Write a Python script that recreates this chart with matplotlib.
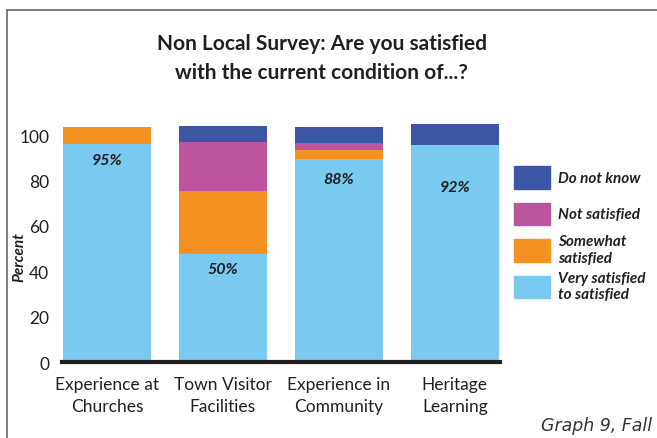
import matplotlib.pyplot as plt
import numpy as np
from matplotlib.legend_handler import HandlerPatch
from matplotlib.patches import Patch, Rectangle

categories = ["Experience at\nChurches", "Town Visitor\nFacilities",
              "Experience in\nCommunity", "Heritage\nLearning"]
very_satisfied = [96, 47.5, 89.5, 95.5]
somewhat = [7.5, 28, 4, 0]
not_satisfied = [0, 21.5, 3, 0]
do_not_know = [0, 7, 7, 9.5]
pct_labels = ["95%", "50%", "88%", "92%"]
pct_label_y = [89, 41, 80.5, 77]

series = [
    ("Very satisfied\nto satisfied", very_satisfied, "#79c9f0"),
    ("Somewhat\nsatisfied", somewhat, "#f39221"),
    ("Not satisfied", not_satisfied, "#bc559e"),
    ("Do not know", do_not_know, "#3b57a3"),
]

plt.rcParams['font.family'] = ['Lato', 'DejaVu Sans']
text_color = "#231f20"


def small_box(legend, orig_handle, xdescent, ydescent, width, height, fontsize):
    # legend patch shorter than the row, centred vertically
    h = 16.5
    return Rectangle((-xdescent, -ydescent + (height - h) / 2), width, h)


fig = plt.figure(figsize=(6.57, 4.39), dpi=100)
ax = fig.add_axes([0.094, 0.173, 0.667, 0.548])

x = np.arange(len(categories))
bottom = np.zeros(len(categories))
for name, vals, color in series:
    ax.bar(x, vals, 0.76, bottom=bottom, color=color, label=name)
    bottom += np.array(vals)

for xi, lab, ly in zip(x, pct_labels, pct_label_y):
    ax.text(xi, ly, lab, ha='center', va='center', fontsize=11.5,
            fontweight='bold', fontstyle='italic', color=text_color)

ax.set_xlim(-0.39, 3.39)
ax.set_ylim(0, 106)
ax.set_yticks([0, 20, 40, 60, 80, 100])
ax.set_xticks(x)
ax.set_xticklabels(categories, fontsize=12.5, color=text_color, linespacing=1.49)
ax.tick_params(axis='both', length=0, labelsize=12.5, colors=text_color)
ax.tick_params(axis='y', pad=9)
ax.tick_params(axis='x', pad=10)
for s in ['top', 'right', 'left']:
    ax.spines[s].set_visible(False)
ax.spines['bottom'].set_linewidth(3)
ax.spines['bottom'].set_color("#231f20")

ax.set_ylabel("Percent", fontsize=11, fontweight='bold', fontstyle='italic',
              color=text_color)
ax.yaxis.set_label_coords(-0.08, 0.44)

fig.text(0.49, 0.867, "Non Local Survey: Are you satisfied\nwith the current condition of...?",
         ha='center', va='center', fontsize=15, fontweight='bold',
         color=text_color, linespacing=1.52)

handles = [Patch(color=c, label=n) for n, v, c in series][::-1]
leg = fig.legend(handles=handles, loc='upper left', bbox_to_anchor=(0.7823, 0.635),
                 frameon=False, fontsize=11, handlelength=2.36, handleheight=3.3,
                 handletextpad=0.53, labelspacing=0.0, borderpad=0, borderaxespad=0,
                 handler_map={Patch: HandlerPatch(patch_func=small_box)})
for t in leg.get_texts():
    t.set_fontweight('bold')
    t.set_fontstyle('italic')
    t.set_color(text_color)
    t.set_linespacing(1.23)

fig.text(0.992, 0.03, "Graph 9, Fall", ha='right', va='center', fontsize=12.5,
         fontstyle='italic', color="#333333", family='DejaVu Sans')

fig.patches.append(Rectangle((0.0107, -0.1), 1.2, 1.075, transform=fig.transFigure,
                             fill=False, ec="#666666", lw=1.2, clip_on=False))

fig.savefig("out.png", dpi=100)
